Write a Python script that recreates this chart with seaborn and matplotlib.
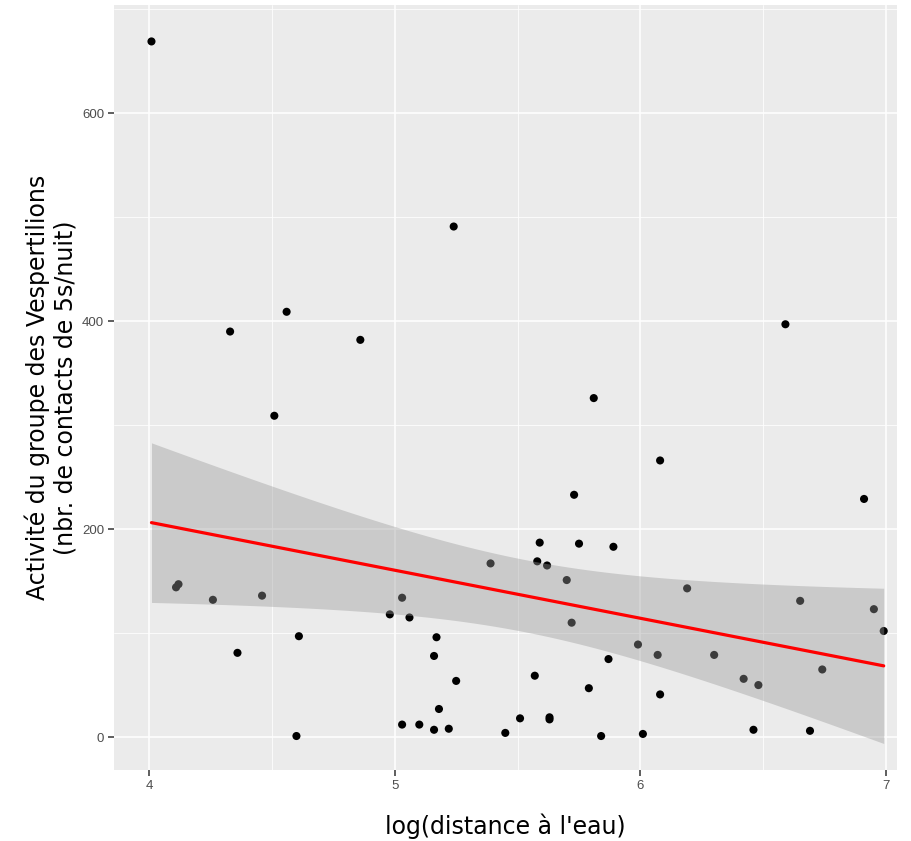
import numpy as np
import pandas as pd
import matplotlib
matplotlib.use("Agg")
import matplotlib.pyplot as plt
import seaborn as sns
from matplotlib.ticker import MultipleLocator

# ── Data ─────────────────────────────────────────────────────────────────────
log_dist = [4.01, 4.33, 4.56, 4.51, 4.86, 5.24, 4.11, 4.12, 4.26, 4.46,
            4.36, 4.61, 4.60, 4.98, 5.03, 5.06, 5.17, 5.16, 5.25, 5.18,
            5.03, 5.10, 5.16, 5.22, 6.08, 5.73, 6.91, 5.59, 5.75, 5.89,
            5.58, 5.62, 5.70, 6.19, 6.65, 6.95, 6.99, 5.72, 5.99, 6.07,
            6.30, 5.87, 6.74, 6.42, 6.48, 5.57, 5.79, 6.08, 5.51, 5.63,
            5.63, 5.45, 5.84, 6.01, 6.46, 6.69, 5.39, 5.81, 6.59]
activite = [669, 390, 409, 309, 382, 491, 144, 147, 132, 136,
            81, 97, 1, 118, 134, 115, 96, 78, 54, 27,
            12, 12, 7, 8, 266, 233, 229, 187, 186, 183,
            169, 165, 151, 143, 131, 123, 102, 110, 89, 79,
            79, 75, 65, 56, 50, 59, 47, 41, 18, 17,
            19, 4, 1, 3, 7, 6, 167, 326, 397]

x_label = "log(distance à l'eau)"
y_label = "Activité du groupe des Vespertilions\n(nbr. de contacts de 5s/nuit)"

df = pd.DataFrame({"log_dist": log_dist, "activite": activite})

# ── linear fit + 95% confidence band (like geom_smooth(method="lm")) ─────────
x = df["log_dist"].to_numpy()
y = df["activite"].to_numpy()
n = len(x)
slope, intercept = np.polyfit(x, y, 1)
resid = y - (intercept + slope * x)
s_err = np.sqrt(np.sum(resid ** 2) / (n - 2))
x_grid = np.linspace(x.min(), x.max(), 80)
y_fit = intercept + slope * x_grid
t_val = 2.0025  # t(0.975, df=57)
half = t_val * s_err * np.sqrt(1 / n + (x_grid - x.mean()) ** 2 / np.sum((x - x.mean()) ** 2))

# ── ggplot-like theme ────────────────────────────────────────────────────────
sns.set_theme(style="darkgrid", rc={
    "axes.facecolor": "#EBEBEB",
    "grid.color": "white",
    "axes.edgecolor": "#EBEBEB",
})
plt.rcParams["font.family"] = ["DejaVu Sans"]

fig = plt.figure(figsize=(9.11, 8.41), dpi=100)
ax = fig.add_axes([0.125, 0.0844, 0.8596, 0.9096])

sns.scatterplot(data=df, x="log_dist", y="activite", ax=ax, color="black",
                s=34, edgecolor="none", zorder=3)
# band drawn over the points, grey60 at alpha 0.4
ax.fill_between(x_grid, y_fit - half, y_fit + half, color="#999999",
                alpha=0.4, linewidth=0, zorder=4)
sns.regplot(data=df, x="log_dist", y="activite", ax=ax, scatter=False,
            ci=None, truncate=True,
            line_kws=dict(color="red", linewidth=2.3, zorder=5))

ax.set_xlim(3.857, 7.044)
ax.set_ylim(-31.7, 704)
ax.xaxis.set_major_locator(MultipleLocator(1))
ax.yaxis.set_major_locator(MultipleLocator(200))
ax.xaxis.set_minor_locator(MultipleLocator(0.5))
ax.yaxis.set_minor_locator(MultipleLocator(100))
ax.grid(which="major", color="white", linewidth=1.1)
ax.grid(which="minor", color="white", linewidth=0.55)
for s in ax.spines.values():
    s.set_visible(False)

ax.tick_params(axis="both", which="major", bottom=True, left=True, length=4,
               width=1.1, color="#333333", labelcolor="#4D4D4D",
               labelsize=9.5, pad=3)
ax.tick_params(axis="both", which="minor", length=0)
for lab in ax.get_xticklabels() + ax.get_yticklabels():
    lab.set_family(["Liberation Sans", "DejaVu Sans"])

ax.set_xlabel(x_label, fontsize=17, color="black", labelpad=16)
ax.set_ylabel(y_label, fontsize=17, color="black", labelpad=3)

fig.savefig("out.png", dpi=100, facecolor="white")
